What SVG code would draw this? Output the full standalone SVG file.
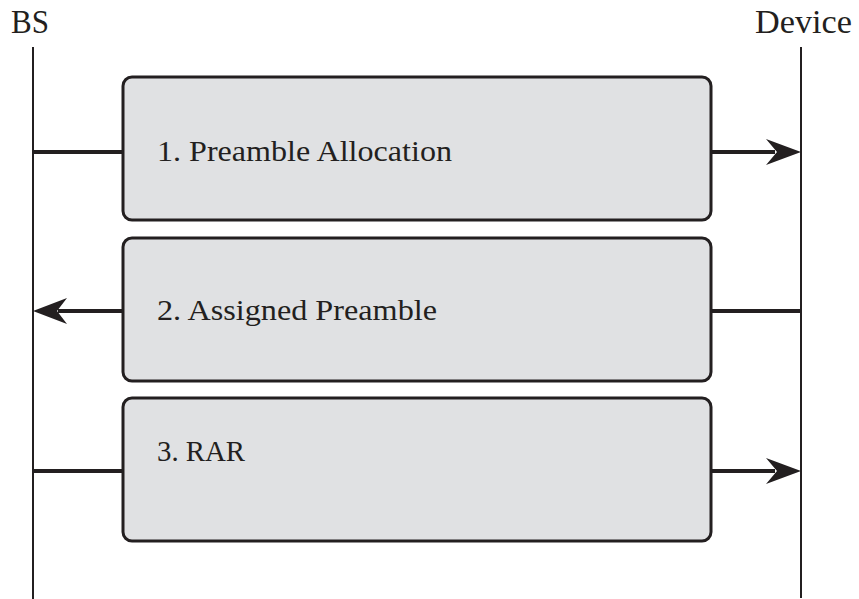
<svg xmlns="http://www.w3.org/2000/svg" width="859" height="599" viewBox="0 0 859 599">
  <style>
    .label { font-family: "Liberation Serif", "DejaVu Serif", serif; fill: #231f20; }
    .actor { font-size: 34px; }
    .step { font-size: 29px; }
    .box { fill: #e0e1e3; stroke: #231f20; stroke-width: 3; }
    .life { stroke: #231f20; stroke-width: 2; fill: none; }
    .msg { stroke: #231f20; stroke-width: 4; fill: none; }
    .head { fill: #231f20; }
  </style>
  <rect width="859" height="599" fill="#ffffff"/>

  <!-- actors with lifelines -->
  <g id="bs">
    <text class="label actor" x="11" y="33" textLength="38" lengthAdjust="spacingAndGlyphs">BS</text>
    <line class="life" x1="33" y1="47" x2="33" y2="599"/>
  </g>
  <g id="device">
    <text class="label actor" x="755" y="33" textLength="97" lengthAdjust="spacingAndGlyphs">Device</text>
    <line class="life" x1="801" y1="47" x2="801" y2="598"/>
  </g>

  <!-- message connectors -->
  <g id="connectors">
    <line class="msg" x1="33" y1="152" x2="124" y2="152"/>
    <line class="msg" x1="710" y1="152" x2="775" y2="152"/>
    <path class="head" d="M801,152 L766,139 L777,152 L766,165 Z"/>

    <line class="msg" x1="58" y1="311" x2="124" y2="311"/>
    <path class="head" d="M33,311 L67,298 L57,311 L67,324 Z"/>
    <line class="msg" x1="710" y1="311" x2="802" y2="311"/>

    <line class="msg" x1="33" y1="471" x2="124" y2="471"/>
    <line class="msg" x1="710" y1="471" x2="775" y2="471"/>
    <path class="head" d="M801,471 L766,458 L777,471 L766,484 Z"/>
  </g>

  <!-- steps -->
  <g id="step1">
    <rect class="box" x="123" y="77" width="588" height="143" rx="9"/>
    <text class="label step" x="157" y="161" textLength="295" lengthAdjust="spacingAndGlyphs">1. Preamble Allocation</text>
  </g>
  <g id="step2">
    <rect class="box" x="123" y="238" width="588" height="143" rx="9"/>
    <text class="label step" x="157" y="320" textLength="280" lengthAdjust="spacingAndGlyphs">2. Assigned Preamble</text>
  </g>
  <g id="step3">
    <rect class="box" x="123" y="398" width="588" height="143" rx="9"/>
    <text class="label step" x="157" y="461" textLength="88" lengthAdjust="spacingAndGlyphs">3. RAR</text>
  </g>
</svg>
